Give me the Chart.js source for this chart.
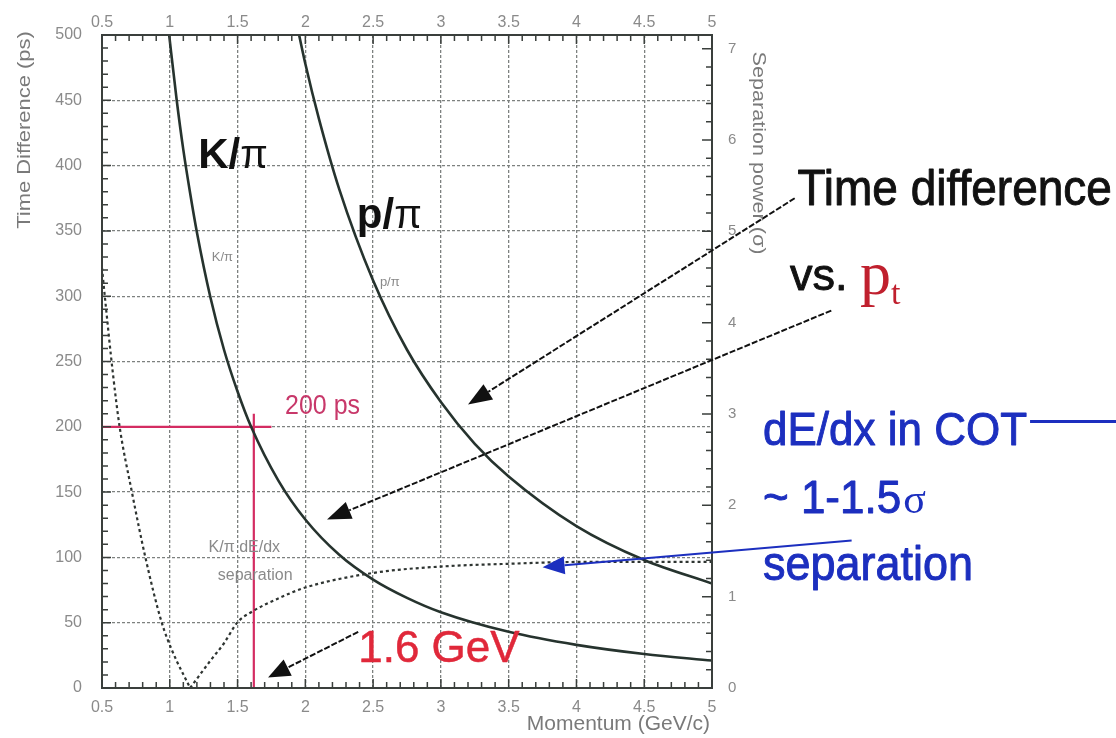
<!DOCTYPE html>
<html>
<head>
<meta charset="utf-8">
<script src="https://cdn.jsdelivr.net/npm/chart.js@4.4.1/dist/chart.umd.min.js"></script>
<style>
  html, body { margin: 0; padding: 0; background: #fff; }
  #wrap { width: 1116px; height: 738px; }
</style>
</head>
<body>
<div id="wrap"><canvas id="tofChart" width="1116" height="738"></canvas></div>
<script>
// momentum (GeV/c) and time difference (ps)
const kpiP = [0.99, 1.05, 1.1, 1.15, 1.2, 1.3, 1.4, 1.5, 1.6, 1.8, 2.0, 2.25, 2.5, 2.75, 3.0, 3.5, 4.0, 4.5, 5.0];
const kpiT = [505, 451, 412, 379, 349, 299, 259, 227, 200, 159, 129, 102, 83, 69, 58, 43, 33, 26, 21];

const ppiP = [1.94, 2.0, 2.1, 2.25, 2.5, 2.75, 3.0, 3.25, 3.5, 4.0, 4.5, 5.0];
const ppiT = [507, 478, 436, 382, 312, 259, 219, 187, 162, 124, 98, 80];

// K/pi dE/dx separation (sigma, right axis), two branches around the minimum
const sepLoP = [0.5, 0.52, 0.58, 0.63, 0.72, 0.82, 0.94, 1.02, 1.15];
const sepLoS = [4.6, 4.3, 3.45, 2.86, 2.15, 1.43, 0.72, 0.4, 0];
const sepHiP = [1.15, 1.3, 1.4, 1.5, 1.6, 1.8, 2.0, 2.5, 3.0, 3.5, 4.0, 4.5, 5.0];
const sepHiS = [0, 0.3, 0.49, 0.72, 0.83, 0.98, 1.1, 1.26, 1.33, 1.36, 1.38, 1.38, 1.38];

// red guide lines: 200 ps at 1.6 GeV
const guideHP = [0.5, 1.75];
const guideHT = [200, 200];
const guideVP = [1.62, 1.62];
const guideVT = [0, 210];

const xTicks = [0.5, 1, 1.5, 2, 2.5, 3, 3.5, 4, 4.5, 5];
const yTicks = [0, 50, 100, 150, 200, 250, 300, 350, 400, 450, 500];
const sepTicks = [0, 1, 2, 3, 4, 5, 6, 7];

const pts = (xs, ys) => xs.map((x, i) => ({ x: x, y: ys[i] }));

const SANS = '"Liberation Sans", Arial, sans-serif';
const SERIF = '"Liberation Serif", "Times New Roman", serif';
const TICK_GREY = '#8a8a8a';

function txt(ctx, s, x, y, font, color, o) {
    o = o || {};
    ctx.save();
    ctx.translate(x, y);
    if (o.rot) ctx.rotate(o.rot);
    ctx.scale(o.sx || 1, o.sy || 1);
    ctx.font = font;
    ctx.fillStyle = color;
    ctx.textAlign = o.align || 'left';
    ctx.textBaseline = o.base || 'alphabetic';
    ctx.fillText(s, 0, 0);
    if (o.stroke) {
        // a little extra weight, like the blurry original
        ctx.strokeStyle = color;
        ctx.lineWidth = o.stroke;
        ctx.lineJoin = 'round';
        ctx.strokeText(s, 0, 0);
    }
    const w = ctx.measureText(s).width * (o.sx || 1);
    ctx.restore();
    return w;
}

function arrow(ctx, x0, y0, x1, y1, color, len, half, dash) {
    const a = Math.atan2(y1 - y0, x1 - x0);
    const bx = x1 - len * Math.cos(a), by = y1 - len * Math.sin(a);
    ctx.save();
    ctx.strokeStyle = color;
    ctx.fillStyle = color;
    ctx.lineWidth = 2;
    if (dash) ctx.setLineDash(dash);
    ctx.beginPath();
    ctx.moveTo(x0, y0);
    ctx.lineTo(bx, by);
    ctx.stroke();
    ctx.setLineDash([]);
    ctx.beginPath();
    ctx.moveTo(x1, y1);
    ctx.lineTo(bx + half * Math.sin(a), by - half * Math.cos(a));
    ctx.lineTo(bx - half * Math.sin(a), by + half * Math.cos(a));
    ctx.closePath();
    ctx.fill();
    ctx.restore();
}

const decorPlugin = {
    id: 'decor',
    afterDatasetsDraw(chart) {
        const { ctx, chartArea: a, scales } = chart;
        const X = v => scales.x.getPixelForValue(v);
        const Y = v => scales.y.getPixelForValue(v);
        const S = v => scales.y2.getPixelForValue(v);

        // frame
        ctx.save();
        ctx.strokeStyle = '#3a3f3c';
        ctx.lineWidth = 2;
        ctx.strokeRect(a.left, a.top, a.right - a.left, a.bottom - a.top);

        // minor ticks, pointing inwards
        ctx.lineWidth = 1.5;
        ctx.beginPath();
        for (let i = 0; i <= 45; i++) {
            const px = X(0.5 + i * 0.1);
            const l = i % 5 === 0 ? 9 : 6;
            ctx.moveTo(px, a.bottom); ctx.lineTo(px, a.bottom - l);
            ctx.moveTo(px, a.top); ctx.lineTo(px, a.top + l);
        }
        for (let i = 0; i <= 50; i++) {
            const py = Y(i * 10);
            ctx.moveTo(a.left, py); ctx.lineTo(a.left + (i % 5 === 0 ? 9 : 6), py);
        }
        for (let i = 0; i <= 35; i++) {
            const py = S(i * 0.2);
            ctx.moveTo(a.right, py); ctx.lineTo(a.right - (i % 5 === 0 ? 10 : 6), py);
        }
        ctx.stroke();
        ctx.restore();

        // axis titles
        txt(ctx, 'Time Difference (ps)', 25, 130, '18px ' + SANS, '#7a7a7a',
            { rot: -Math.PI / 2, align: 'center', base: 'middle', sx: 1.22 });
        txt(ctx, 'Separation power (\u03c3)', 758, 153, '18px ' + SANS, '#7a7a7a',
            { rot: Math.PI / 2, align: 'center', base: 'middle', sx: 1.2 });
        txt(ctx, 'Momentum (GeV/c)', a.right - 2, 730, '21px ' + SANS, '#7a7a7a', { align: 'right' });

        // curve labels inside the plot
        let w = txt(ctx, 'K/', X(1.21), Y(398), 'bold 42px ' + SANS, '#111');
        txt(ctx, '\u03c0', X(1.21) + w, Y(398), '40px ' + SANS, '#111');
        w = txt(ctx, 'p/', X(2.38), Y(352), 'bold 42px ' + SANS, '#111');
        txt(ctx, '\u03c0', X(2.38) + w, Y(352), '40px ' + SANS, '#111');
        txt(ctx, 'K/\u03c0', X(1.31), Y(327), '13px ' + SANS, '#8a8a8a');
        txt(ctx, 'p/\u03c0', X(2.55), Y(308), '13px ' + SANS, '#8a8a8a');
        txt(ctx, 'K/\u03c0 dE/dx', X(1.55), Y(104), '16px ' + SANS, '#8a8a8a', { align: 'center' });
        txt(ctx, 'separation', X(1.63), Y(83), '16px ' + SANS, '#8a8a8a', { align: 'center' });
        txt(ctx, '200 ps', X(1.85), Y(210), '25px ' + SANS, '#c8386a', { sy: 1.1 });
        txt(ctx, '1.6 GeV', X(2.39), Y(20), '44px ' + SANS, '#e0283a', { sy: 1.02, stroke: 0.5 });

        // black pointers
        arrow(ctx, X(5.61), Y(375), X(3.2), Y(217), '#111', 24, 9, [6, 2]);
        arrow(ctx, X(5.88), Y(289), X(2.16), Y(129), '#111', 24, 9, [6, 2]);
        arrow(ctx, X(2.39), Y(43), X(1.725), Y(8), '#111', 22, 9, [6, 2]);

        // right-hand texts
        txt(ctx, 'Time difference', X(5.63), Y(370), '46px ' + SANS, '#111', { sy: 1.08, stroke: 0.9 });
        w = txt(ctx, 'vs. ', X(5.575), Y(305), '45px ' + SANS, '#111', { stroke: 0.9 });
        txt(ctx, 'p', X(5.575) + w, Y(302), '62px ' + SERIF, '#c0202e');
        txt(ctx, 't', X(5.575) + w + 31, Y(294), '34px ' + SERIF, '#c0202e');

        const blue = '#1c2fbf';
        w = txt(ctx, 'dE/dx in COT', X(5.376), Y(186), '44px ' + SANS, blue, { sy: 1.05, stroke: 0.9 });
        ctx.save();
        ctx.strokeStyle = blue;
        ctx.lineWidth = 3;
        ctx.beginPath();
        ctx.moveTo(X(5.376) + w + 3, Y(204));
        ctx.lineTo(X(7.99), Y(204));
        ctx.stroke();
        ctx.restore();
        w = txt(ctx, '~ 1-1.5', X(5.376), Y(134), '44px ' + SANS, blue, { sy: 1.05, stroke: 0.9 });
        txt(ctx, '\u03c3', X(5.376) + w + 2, Y(134), '42px ' + SERIF, blue);
        txt(ctx, 'separation', X(5.376), Y(83), '45px ' + SANS, blue, { sy: 1.05, stroke: 0.9 });
        arrow(ctx, X(6.03), Y(113), X(3.75), Y(92.5), blue, 22, 9);
    }
};

const ctx = document.getElementById('tofChart').getContext('2d');

new Chart(ctx, {
    type: 'line',
    data: {
        datasets: [
            {
                label: 'K/pi dE/dx (low p)',
                data: pts(sepLoP, sepLoS),
                yAxisID: 'y2',
                borderColor: '#2e3431',
                borderWidth: 2.2,
                borderDash: [3, 3],
                pointRadius: 0,
                cubicInterpolationMode: 'monotone',
                clip: 0
            },
            {
                label: 'K/pi dE/dx (high p)',
                data: pts(sepHiP, sepHiS),
                yAxisID: 'y2',
                borderColor: '#2e3431',
                borderWidth: 2.2,
                borderDash: [3, 3],
                pointRadius: 0,
                cubicInterpolationMode: 'monotone',
                clip: 0
            },
            {
                label: 'K/pi',
                data: pts(kpiP, kpiT),
                borderColor: '#26332e',
                borderWidth: 2.6,
                pointRadius: 0,
                cubicInterpolationMode: 'monotone',
                clip: 0
            },
            {
                label: 'p/pi',
                data: pts(ppiP, ppiT),
                borderColor: '#26332e',
                borderWidth: 2.6,
                pointRadius: 0,
                cubicInterpolationMode: 'monotone',
                clip: 0
            },
            {
                label: '200 ps',
                data: pts(guideHP, guideHT),
                borderColor: '#d42c62',
                borderWidth: 2.2,
                pointRadius: 0,
                clip: 0
            },
            {
                label: '1.6 GeV',
                data: pts(guideVP, guideVT),
                borderColor: '#d42c62',
                borderWidth: 2.2,
                pointRadius: 0,
                clip: 0
            }
        ]
    },
    options: {
        responsive: false,
        animation: false,
        devicePixelRatio: 1,
        layout: { padding: 0 },
        plugins: {
            legend: { display: false },
            tooltip: { enabled: false }
        },
        scales: {
            x: {
                type: 'linear',
                position: 'bottom',
                min: 0.5,
                max: 5,
                afterFit: s => { s.height = 50; },
                afterBuildTicks: s => { s.ticks = xTicks.map(v => ({ value: v })); },
                ticks: {
                    callback: v => String(v),
                    color: TICK_GREY,
                    font: { family: SANS, size: 16 },
                    padding: 10,
                    maxRotation: 0,
                    autoSkip: false
                },
                grid: { color: '#7d817f', lineWidth: 1.3, drawTicks: false },
                border: { display: false, dash: [3, 2] }
            },
            xTop: {
                type: 'linear',
                position: 'top',
                min: 0.5,
                max: 5,
                afterFit: s => { s.height = 35; },
                afterBuildTicks: s => { s.ticks = xTicks.map(v => ({ value: v })); },
                ticks: {
                    callback: v => String(v),
                    color: TICK_GREY,
                    font: { family: SANS, size: 16 },
                    padding: 3,
                    maxRotation: 0,
                    autoSkip: false
                },
                grid: { drawOnChartArea: false, drawTicks: false },
                border: { display: false }
            },
            y: {
                type: 'linear',
                position: 'left',
                min: 0,
                max: 500,
                afterFit: s => { s.width = 102; },
                afterBuildTicks: s => { s.ticks = yTicks.map(v => ({ value: v })); },
                ticks: {
                    callback: v => String(v),
                    color: TICK_GREY,
                    font: { family: SANS, size: 16 },
                    padding: 20
                },
                grid: { color: '#7d817f', lineWidth: 1.3, drawTicks: false },
                border: { display: false, dash: [3, 2] }
            },
            y2: {
                type: 'linear',
                position: 'right',
                min: 0,
                max: 7.15,
                afterFit: s => { s.width = 404; },
                afterBuildTicks: s => { s.ticks = sepTicks.map(v => ({ value: v })); },
                ticks: {
                    callback: v => String(v),
                    color: TICK_GREY,
                    font: { family: SANS, size: 15 },
                    padding: 16
                },
                grid: { drawOnChartArea: false, drawTicks: false },
                border: { display: false }
            }
        }
    },
    plugins: [decorPlugin]
});
</script>
</body>
</html>
